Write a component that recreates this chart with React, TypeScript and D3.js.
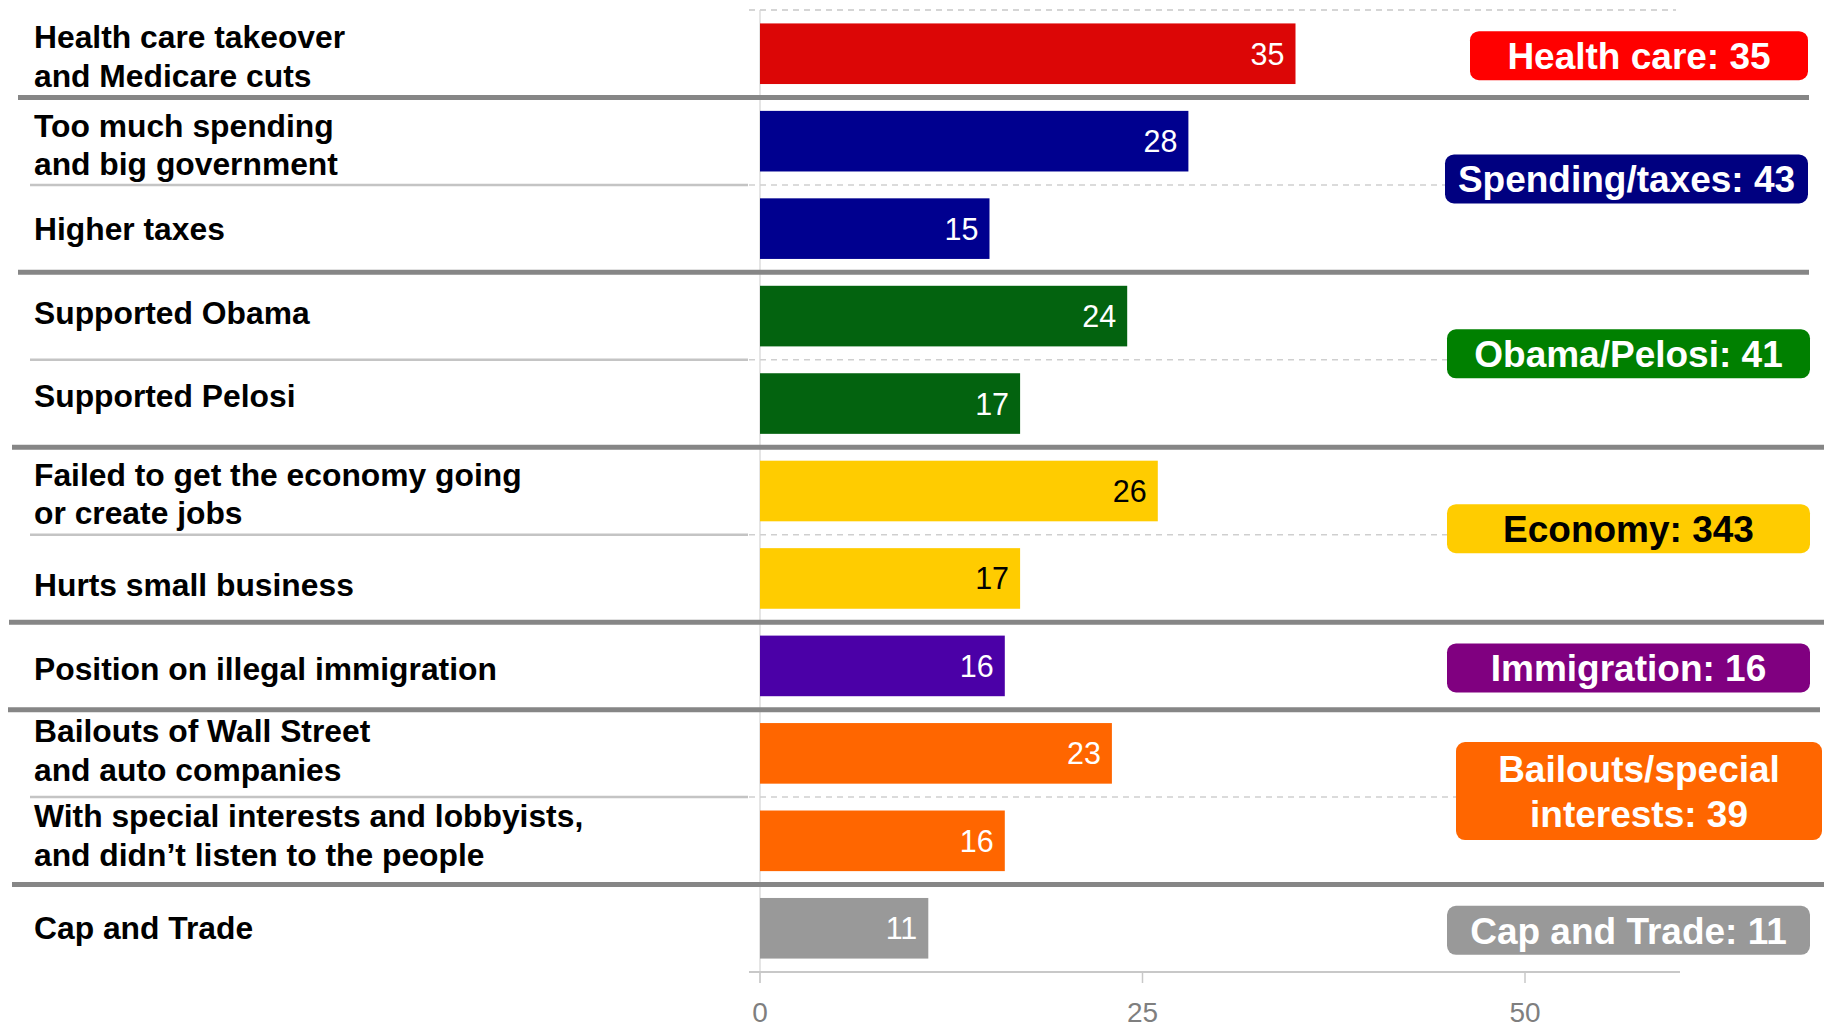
import React from "react";
import * as d3 from "d3";

const itemLabels: string[][] = [
  ["Health care takeover", "and Medicare cuts"],
  ["Too much spending", "and big government"],
  ["Higher taxes"],
  ["Supported Obama"],
  ["Supported Pelosi"],
  ["Failed to get the economy going", "or create jobs"],
  ["Hurts small business"],
  ["Position on illegal immigration"],
  ["Bailouts of Wall Street", "and auto companies"],
  ["With special interests and lobbyists,", "and didn\u2019t listen to the people"],
  ["Cap and Trade"],
];
const itemValues: number[] = [35, 28, 15, 24, 17, 26, 17, 16, 23, 16, 11];
const itemGroup: number[] = [0, 1, 1, 2, 2, 3, 3, 4, 5, 5, 6];

const groupLabels: string[][] = [
  ["Health care: 35"],
  ["Spending/taxes: 43"],
  ["Obama/Pelosi: 41"],
  ["Economy: 343"],
  ["Immigration: 16"],
  ["Bailouts/special", "interests: 39"],
  ["Cap and Trade: 11"],
];
const xTicks: number[] = [0, 25, 50];

// styles / layout
const barColors = ["#dc0606", "#00008f", "#03630f", "#ffcc00", "#4b00a7", "#ff6600", "#999999"];
const boxColors = ["#ff0000", "#000080", "#008000", "#ffcc00", "#800080", "#ff6600", "#999999"];
const darkText = [false, false, false, true, false, false, false];
const boxLeft = [1470, 1445, 1447, 1447, 1447, 1456, 1447];
const boxRight = [1808, 1808, 1810, 1810, 1810, 1822, 1810];
const labelShift = [2.3, 3.5, 0, -3.5, -8, 2.3, 5.8, 2.3, -3.5, -5.8, -1.2];
const sepSpan = [
  [18, 1809],
  [18, 1809],
  [12, 1824],
  [9, 1824],
  [8, 1820],
  [12, 1824],
];

const W = 1824;
const H = 1030;
const FONT = "'Liberation Sans', Arial, Helvetica, sans-serif";

export default function App() {
  const n = itemValues.length;
  const y = d3
    .scaleBand<number>()
    .domain(d3.range(n))
    .range([10, 972])
    .paddingInner(0.307)
    .paddingOuter(0.1535);
  const step = y.step();
  const bandTop = (i: number) => 10 + i * step;
  const x = d3.scaleLinear().domain([0, 60]).range([760, 1678]);

  const groupIdx = d3.range(groupLabels.length);
  const groupItems = groupIdx.map((g) => d3.range(n).filter((i) => itemGroup[i] === g));

  const thick: number[] = [];
  const thin: number[] = [];
  for (let i = 1; i < n; i++) {
    if (itemGroup[i] !== itemGroup[i - 1]) thick.push(bandTop(i));
    else thin.push(bandTop(i));
  }

  return (
    <svg
      width={W}
      height={H}
      style={{ position: "absolute", left: 0, top: 0, background: "#fff" }}
      fontFamily={FONT}
    >
      <line x1={749} x2={1676} y1={10} y2={10} stroke="#c8c8c8" strokeWidth={1.5} strokeDasharray="6,5" />
      {thin.map((yy, k) => (
        <line key={"d" + k} x1={749} x2={1676} y1={yy} y2={yy} stroke="#cfcfcf" strokeWidth={1.5} strokeDasharray="6,5" />
      ))}
      <line x1={x(0)} x2={x(0)} y1={10} y2={983} stroke="#d4d4d4" strokeWidth={1.2} />

      {itemValues.map((v, i) => (
        <rect
          key={"b" + i}
          x={x(0)}
          y={y(i)!}
          width={x(v) - x(0)}
          height={y.bandwidth()}
          fill={barColors[itemGroup[i]]}
        />
      ))}
      {itemValues.map((v, i) => (
        <text
          key={"v" + i}
          x={x(v) - 11}
          y={y(i)! + y.bandwidth() / 2}
          dy="0.36em"
          textAnchor="end"
          fontSize={30.5}
          fill={darkText[itemGroup[i]] ? "#000" : "#fff"}
        >
          {v}
        </text>
      ))}

      {thin.map((yy, k) => (
        <line key={"t" + k} x1={30} x2={748} y1={yy} y2={yy} stroke="#c4c4c4" strokeWidth={2.5} />
      ))}
      {thick.map((yy, k) => (
        <line key={"s" + k} x1={sepSpan[k][0]} x2={sepSpan[k][1]} y1={yy} y2={yy} stroke="#868686" strokeWidth={5} />
      ))}

      {itemLabels.map((lines, i) => {
        const c = y(i)! + y.bandwidth() / 2 + labelShift[i];
        const lh = 38.4;
        const start = c - ((lines.length - 1) * lh) / 2;
        return (
          <text key={"l" + i} x={34} fontSize={31.8} fontWeight="bold" fill="#000">
            {lines.map((t, j) => (
              <tspan key={j} x={34} y={start + j * lh} dy="0.36em">
                {t}
              </tspan>
            ))}
          </text>
        );
      })}

      <line x1={749} x2={1680} y1={972} y2={972} stroke="#c8c8c8" strokeWidth={2} />
      {xTicks.map((t) => (
        <g key={"x" + t}>
          <line x1={x(t)} x2={x(t)} y1={972} y2={983} stroke="#c8c8c8" strokeWidth={1.5} />
          <text x={x(t)} y={1012} dy="0.36em" textAnchor="middle" fontSize={28} fill="#7f7f7f">
            {t}
          </text>
        </g>
      ))}

      {groupIdx.map((g) => {
        const items = groupItems[g];
        const top = bandTop(items[0]);
        const bottom = bandTop(items[items.length - 1] + 1);
        const c = (top + bottom) / 2 + (items.length > 1 ? -6 : 2);
        const lines = groupLabels[g];
        const h = lines.length > 1 ? 98 : 49;
        const lh = 45;
        const start = c - ((lines.length - 1) * lh) / 2;
        return (
          <g key={"g" + g}>
            <rect
              x={boxLeft[g]}
              y={c - h / 2}
              width={boxRight[g] - boxLeft[g]}
              height={h}
              rx={9}
              ry={9}
              fill={boxColors[g]}
            />
            <text
              x={(boxLeft[g] + boxRight[g]) / 2}
              textAnchor="middle"
              fontSize={37}
              fontWeight="bold"
              fill={darkText[g] ? "#000" : "#fff"}
            >
              {lines.map((t, j) => (
                <tspan key={j} x={(boxLeft[g] + boxRight[g]) / 2} y={start + j * lh} dy="0.36em">
                  {t}
                </tspan>
              ))}
            </text>
          </g>
        );
      })}
    </svg>
  );
}
